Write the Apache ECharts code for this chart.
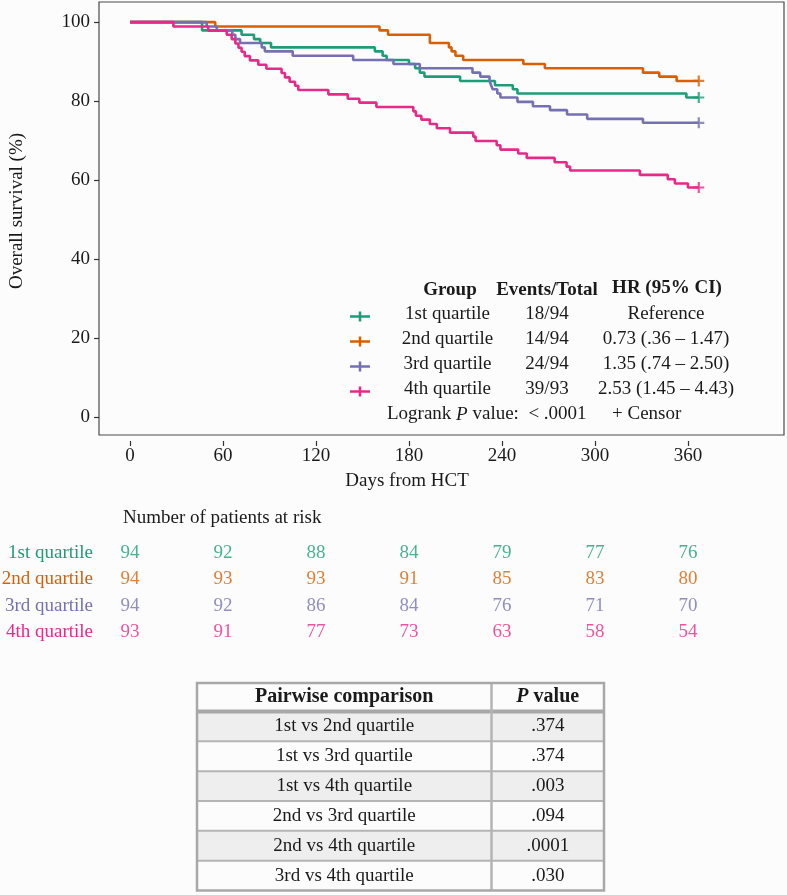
<!DOCTYPE html>
<html><head><meta charset="utf-8">
<script src="https://cdn.jsdelivr.net/npm/echarts@6/dist/echarts.min.js"></script>
<style>html,body{margin:0;padding:0;background:#fcfcfc}#c{width:787px;height:895px}</style>
</head><body><div id="c"></div>
<script>
const groups = ['1st quartile', '2nd quartile', '3rd quartile', '4th quartile'];
const colors = ['#1b9e77', '#d95f02', '#7570b3', '#e7298a'];

const q1Days = [0, 46.5, 72, 80, 84, 91, 158, 163, 165.6, 180, 184, 187, 190, 213, 235.5, 247, 250, 359, 367];
const q1Surv = [100, 97.9, 96.8, 95.7, 94.7, 93.6, 92.6, 91.5, 90.4, 89.4, 88.3, 87.2, 86.2, 85.1, 84.0, 83.0, 81.9, 80.9, 80.9];

const q2Days = [0, 55, 161, 166.5, 193.5, 205.8, 207.5, 210, 215, 253.8, 267.7, 331, 341.5, 352.7, 367];
const q2Surv = [100, 98.9, 97.9, 96.8, 94.7, 93.6, 92.6, 91.5, 90.4, 89.4, 88.3, 87.2, 86.2, 85.1, 85.1];

const q3Days = [0, 49.5, 56, 66, 68, 71, 85, 87, 105, 144, 170, 187, 221, 226, 232, 233, 234, 237, 239, 250, 260, 271, 282, 295, 331, 367];
const q3Surv = [100, 98.9, 97.9, 96.8, 95.7, 94.7, 93.6, 92.6, 91.5, 90.4, 89.4, 88.3, 87.2, 86.2, 85.1, 84.0, 83.0, 81.9, 80.9, 79.8, 78.7, 77.7, 76.6, 75.5, 74.5, 74.5];

const q4Days = [0, 28, 50.5, 62.4, 65.6, 68, 70, 72, 74, 77.4, 82.8, 88, 97.8, 100, 103, 106.5, 108.6, 128, 140.5, 148, 159, 182.8, 184.5, 188, 193.5, 198, 206.5, 221.5, 223, 236.6, 239, 250.5, 256, 274, 281.7, 284, 329, 347, 351.6, 360, 367];
const q4Surv = [100, 98.9, 97.8, 96.8, 95.7, 94.6, 93.5, 92.5, 91.4, 90.3, 89.2, 88.2, 87.1, 86.0, 84.9, 83.9, 82.8, 81.7, 80.6, 79.6, 78.5, 77.4, 76.3, 75.3, 74.2, 73.1, 72.0, 71.0, 69.9, 68.8, 67.7, 66.7, 65.6, 64.5, 63.4, 62.4, 61.3, 60.2, 59.1, 58.1, 58.1];

const xTicks = [0, 60, 120, 180, 240, 300, 360];
const yTicks = [0, 20, 40, 60, 80, 100];

const riskTimes = [0, 60, 120, 180, 240, 300, 360];
const risk1 = [94, 92, 88, 84, 79, 77, 76];
const risk2 = [94, 93, 93, 91, 85, 83, 80];
const risk3 = [94, 92, 86, 84, 76, 71, 70];
const risk4 = [93, 91, 77, 73, 63, 58, 54];

const eventsTotal = ['18/94', '14/94', '24/94', '39/93'];
const hrText = ['Reference', '0.73 (.36 \u2013 1.47)', '1.35 (.74 \u2013 2.50)', '2.53 (1.45 \u2013 4.43)'];

const pairLabels = ['1st vs 2nd quartile', '1st vs 3rd quartile', '1st vs 4th quartile', '2nd vs 3rd quartile', '2nd vs 4th quartile', '3rd vs 4th quartile'];
const pairP = ['.374', '.374', '.003', '.094', '.0001', '.030'];

const FONT = '"Liberation Serif", "Times New Roman", serif';
const FS = 19;
const INK = '#1a1a1a';

const curves = [[q1Days, q1Surv], [q2Days, q2Surv], [q3Days, q3Surv], [q4Days, q4Surv]];
const risks = [risk1, risk2, risk3, risk4];
const plusPath = 'path://M0,4H10V6H0Z M4,0H6V10H4Z';

const series = [];
curves.forEach(function (c, g) {
  const d = c[0], s = c[1];
  series.push({
    type: 'line', step: 'end', xAxisIndex: 0, yAxisIndex: 0,
    data: d.map(function (t, i) { return [t, s[i]]; }),
    showSymbol: false, symbol: 'none',
    lineStyle: { color: colors[g], width: 2.6 }, itemStyle: { color: colors[g] },
    z: 3, animation: false
  });
  series.push({
    type: 'scatter', xAxisIndex: 0, yAxisIndex: 0,
    data: [[d[d.length - 1], s[s.length - 1]]],
    symbol: plusPath, symbolSize: [11, 11],
    itemStyle: { color: colors[g] }, animation: false, z: 4
  });
});
risks.forEach(function (r, g) {
  series.push({
    type: 'scatter', xAxisIndex: 1, yAxisIndex: 1,
    data: riskTimes.map(function (t, i) { return [t, groups[g], r[i]]; }),
    symbolSize: 1, itemStyle: { color: 'rgba(0,0,0,0)' },
    label: { show: true, position: 'inside', formatter: function (p) { return String(p.value[2]); },
      color: colors[g], fontSize: FS, fontFamily: FONT },
    animation: false, silent: true
  });
});

const graphics = [];
function txt(x, y, text, opts) {
  opts = opts || {};
  graphics.push({
    type: 'text', x: x, y: y, rotation: opts.rotation || 0, z: 10,
    style: Object.assign({ text: text, fontSize: FS, fontFamily: FONT, fill: INK,
      align: opts.align || 'center', verticalAlign: 'middle' }, opts.style || {})
  });
}
// axis titles
txt(17, 211, 'Overall survival (%)', { rotation: Math.PI / 2 });
txt(407, 481, 'Days from HCT');
// legend block
txt(450, 290, 'Group', { style: { fontWeight: 'bold' } });
txt(547, 290, 'Events/Total', { style: { fontWeight: 'bold' } });
txt(667, 288, 'HR (95% CI)', { style: { fontWeight: 'bold' } });
const rowY = [314.5, 339.5, 364.5, 389.5];
groups.forEach(function (g, i) {
  graphics.push({ type: 'rect', z: 10, shape: { x: 350, y: rowY[i] + 2 - 1.25, width: 20, height: 2.5 }, style: { fill: colors[i] } });
  graphics.push({ type: 'rect', z: 10, shape: { x: 358.75, y: rowY[i] + 2 - 5, width: 2.5, height: 10 }, style: { fill: colors[i] } });
  txt(447.5, rowY[i], g);
  txt(547, rowY[i], eventsTotal[i]);
  txt(666, rowY[i], hrText[i]);
});
graphics.push({
  type: 'text', x: 387, y: 414.5, z: 10,
  style: { text: '{a|Logrank }{i|P}{a| value:  < .0001}', align: 'left', verticalAlign: 'middle', fill: INK,
    rich: { a: { fontSize: FS, fontFamily: FONT, fill: INK }, i: { fontSize: FS, fontFamily: FONT, fontStyle: 'italic', fill: INK } } }
});
txt(612, 414.5, '+ Censor', { align: 'left' });
// at-risk title
txt(123, 518, 'Number of patients at risk', { align: 'left' });

// pairwise table
const tL = 197, tR = 604, tDiv = 491.5, tTop = 683, tHead = 711.5, tBot = 890.5;
const rowH = (tBot - tHead) / pairLabels.length;
pairLabels.forEach(function (lab, i) {
  const y0 = tHead + i * rowH;
  if (i % 2 === 0) graphics.push({ type: 'rect', z: 5, shape: { x: tL, y: y0, width: tR - tL, height: rowH }, style: { fill: '#eeeeee' } });
  if (i > 0) graphics.push({ type: 'line', z: 6, shape: { x1: tL, y1: y0, x2: tR, y2: y0 }, style: { stroke: '#b4b4b4', lineWidth: 2 } });
  txt((tL + tDiv) / 2, y0 + rowH / 2, lab);
  txt((tDiv + tR) / 2, y0 + rowH / 2, pairP[i]);
});
graphics.push({ type: 'line', z: 7, shape: { x1: tL, y1: tHead, x2: tR, y2: tHead }, style: { stroke: '#a8a8a8', lineWidth: 4 } });
graphics.push({ type: 'line', z: 7, shape: { x1: tDiv, y1: tTop, x2: tDiv, y2: tBot }, style: { stroke: '#b4b4b4', lineWidth: 2.5 } });
graphics.push({ type: 'rect', z: 7, shape: { x: tL, y: tTop, width: tR - tL, height: tBot - tTop }, style: { fill: 'none', stroke: '#a8a8a8', lineWidth: 2.5 } });
txt((tL + tDiv) / 2, (tTop + tHead) / 2, 'Pairwise comparison', { style: { fontWeight: 'bold', fontSize: 20 } });
graphics.push({
  type: 'text', x: (tDiv + tR) / 2, y: (tTop + tHead) / 2, z: 10,
  style: { text: '{i|P}{b| value}', align: 'center', verticalAlign: 'middle', fill: INK,
    rich: { i: { fontSize: 20, fontFamily: FONT, fontWeight: 'bold', fontStyle: 'italic', fill: INK },
            b: { fontSize: 20, fontFamily: FONT, fontWeight: 'bold', fill: INK } } }
});

const chart = echarts.init(document.getElementById('c'), null, { renderer: 'canvas' });
chart.setOption({
  backgroundColor: '#fcfcfc',
  animation: false,
  textStyle: { fontFamily: FONT },
  grid: [
    { left: 99, top: 2, width: 685, height: 433, show: true, borderColor: '#4a4a4a', borderWidth: 1.2, backgroundColor: 'transparent', containLabel: false, outerBoundsMode: 'none' },
    { left: 99, top: 540, width: 685, height: 105, show: false, containLabel: false, outerBoundsMode: 'none' }
  ],
  xAxis: [
    { type: 'value', gridIndex: 0, min: -20, max: 422, offset: 6, position: 'bottom',
      axisLine: { show: false, onZero: false }, splitLine: { show: false },
      axisTick: { show: true, length: 5, customValues: xTicks, lineStyle: { color: '#333', width: 1.2 } },
      axisLabel: { customValues: xTicks, margin: 6, fontSize: FS, fontFamily: FONT, color: INK } },
    { type: 'value', gridIndex: 1, min: -20, max: 422, show: false, splitLine: { show: false } }
  ],
  yAxis: [
    { type: 'value', gridIndex: 0, min: -4.6, max: 105.1, position: 'left',
      axisLine: { show: false, onZero: false }, splitLine: { show: false },
      axisTick: { show: true, length: 5, customValues: yTicks, lineStyle: { color: '#333', width: 1.2 } },
      axisLabel: { customValues: yTicks, margin: 9, fontSize: FS, fontFamily: FONT, color: INK } },
    { type: 'category', gridIndex: 1, data: groups, inverse: true,
      axisLine: { show: false }, axisTick: { show: false }, splitLine: { show: false },
      axisLabel: { margin: 6, fontSize: FS, fontFamily: FONT, color: function (v, i) { return colors[groups.indexOf(v)]; } } }
  ],
  series: series,
  graphic: graphics
});
</script></body></html>
